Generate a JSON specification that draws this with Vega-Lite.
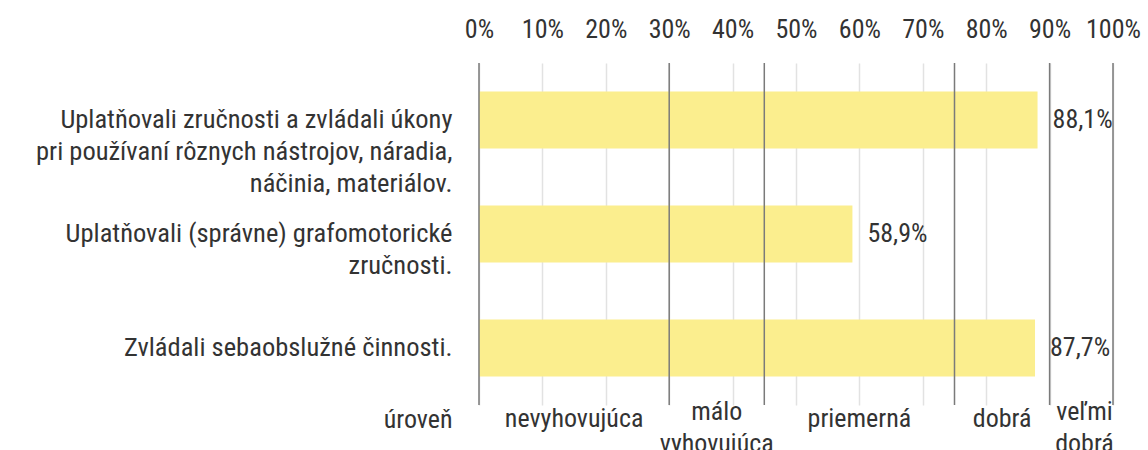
{
  "$schema": "https://vega.github.io/schema/vega-lite/v6.json",
  "padding": 5,
  "spacing": 0,
  "bounds": "flush",
  "config": {
    "font": "Roboto Condensed, Liberation Sans Narrow, DejaVu Sans Condensed, Roboto, sans-serif",
    "view": {"stroke": null},
    "locale": {"number": {"decimal": ",", "thousands": " ", "grouping": [3], "currency": ["", "%"]}},
    "text": {"color": "#333333"}
  },
  "datasets": {
    "bars": [
      {"item": "Uplatňovali zručnosti a zvládali úkony|pri používaní rôznych nástrojov, náradia,|náčinia, materiálov.", "value": 88.1},
      {"item": "Uplatňovali (správne) grafomotorické|zručnosti.", "value": 58.9},
      {"item": "Zvládali sebaobslužné činnosti.", "value": 87.7}
    ],
    "bounds": [{"v": 0}, {"v": 30}, {"v": 45}, {"v": 75}, {"v": 90}, {"v": 100}],
    "levels1": [
      {"name": "nevyhovujúca", "mid": 15},
      {"name": "priemerná", "mid": 60},
      {"name": "dobrá", "mid": 82.5}
    ],
    "levels2": [
      {"name": "málo|vyhovujúca", "mid": 37.5},
      {"name": "veľmi|dobrá", "mid": 95.5}
    ]
  },
  "vconcat": [
    {
      "width": 634,
      "height": 342,
      "layer": [
        {
          "data": {"name": "bars"},
          "mark": {"type": "bar", "color": "#FBEE8E"},
          "encoding": {
            "y": {
              "field": "item", "type": "nominal", "sort": null,
              "scale": {"paddingInner": 0.5, "paddingOuter": 0.25},
              "axis": {
                "title": null, "domain": false, "ticks": false,
                "labelExpr": "split(datum.label, '|')",
                "labelFontSize": 26.5, "labelLineHeight": 32, "labelColor": "#333333",
                "labelPadding": 27, "labelLimit": 0, "minExtent": 474
              }
            },
            "x": {
              "field": "value", "type": "quantitative",
              "scale": {"domain": [0, 100]},
              "axis": {
                "orient": "top", "title": null, "domain": false, "ticks": false,
                "values": [0, 10, 20, 30, 40, 50, 60, 70, 80, 90, 100],
                "labelExpr": "datum.value + '%'",
                "labelOverlap": false, "labelFlush": false,
                "labelFontSize": 26, "labelColor": "#333333", "labelPadding": 21,
                "minExtent": 58, "grid": true, "gridColor": "#e2e2e2", "gridWidth": 1.5
              }
            }
          }
        },
        {
          "data": {"name": "bars"},
          "mark": {"type": "text", "align": "left", "baseline": "middle", "dx": 15, "fontSize": 26, "color": "#333333"},
          "encoding": {
            "y": {"field": "item", "type": "nominal", "sort": null},
            "x": {"field": "value", "type": "quantitative"},
            "text": {"field": "value", "type": "quantitative", "format": "$.1f"}
          }
        },
        {
          "data": {"name": "bounds"},
          "mark": {"type": "rule", "color": "#7a7a7a", "strokeWidth": 1.5},
          "encoding": {
            "x": {"field": "v", "type": "quantitative"}
          }
        }
      ]
    },
    {
      "width": 634,
      "height": 28,
      "layer": [
        {
          "data": {"name": "levels1"},
          "mark": {"type": "text", "align": "center", "baseline": "middle", "fontSize": 26, "color": "#333333"},
          "encoding": {
            "x": {"field": "mid", "type": "quantitative", "scale": {"domain": [0, 100]}, "axis": null},
            "y": {
              "datum": "úroveň", "type": "nominal",
              "axis": {
                "title": null, "domain": false, "ticks": false,
                "labelFontSize": 26, "labelColor": "#333333",
                "labelPadding": 27, "labelLimit": 0, "minExtent": 474
              }
            },
            "text": {"field": "name"}
          }
        },
        {
          "data": {"name": "levels2"},
          "mark": {"type": "text", "align": "center", "baseline": "middle", "fontSize": 26, "color": "#333333", "lineBreak": "|", "lineHeight": 32, "dy": -7},
          "encoding": {
            "x": {"field": "mid", "type": "quantitative"},
            "y": {"datum": "úroveň", "type": "nominal"},
            "text": {"field": "name"}
          }
        }
      ]
    }
  ]
}
